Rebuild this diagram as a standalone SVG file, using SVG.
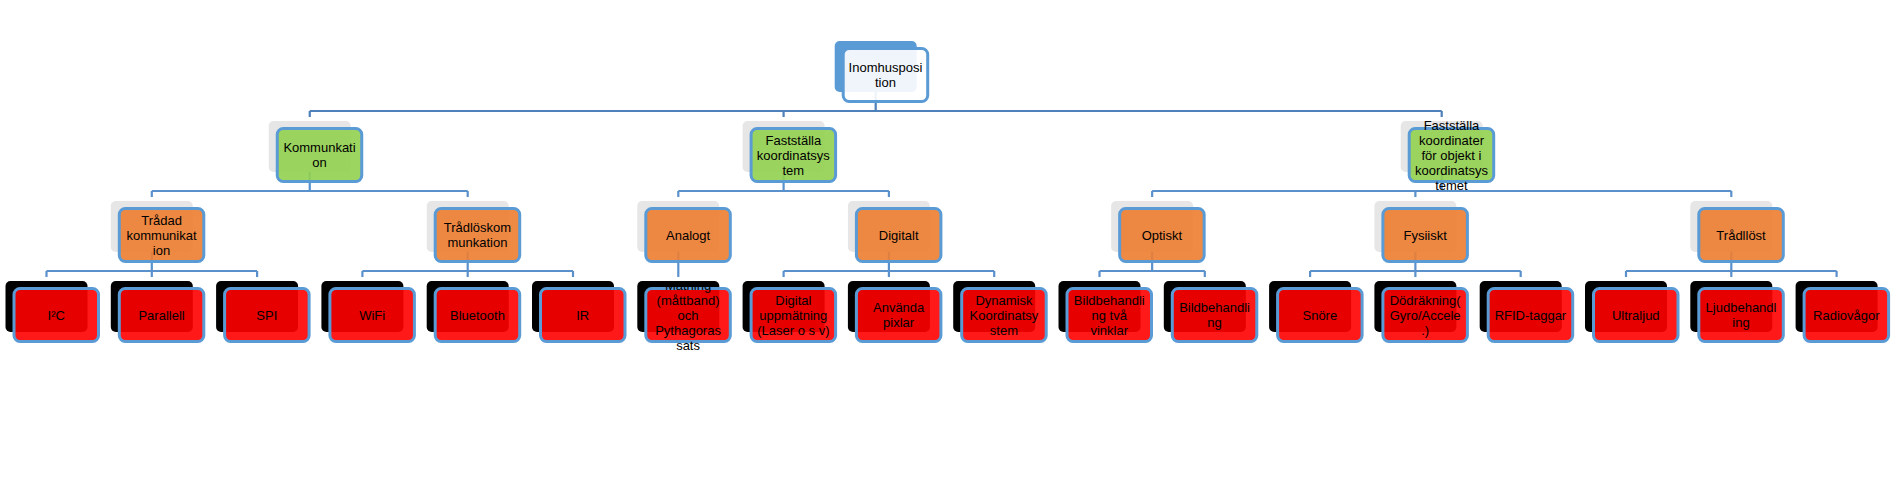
<svg xmlns="http://www.w3.org/2000/svg" width="1894" height="482" viewBox="0 0 1894 482">
<style>
.bg{fill:#ffffff}
.con path{fill:none;stroke:#5A91CD;stroke-width:2.2}
.con path.top{stroke:#4E80BA}
.shb{fill:#5B9BD5}
.shg{fill:#E6E6E6}
.shk{fill:#000000}
.fr{stroke:#5B9BD5;stroke-width:3;fill-opacity:0.9}
.w{fill:#ffffff}
.g{fill:#92D050}
.o{fill:#ED7D31}
.r{fill:#FF0000}
text{font-family:"Liberation Sans",Arial,sans-serif;font-size:13px;fill:#000;text-anchor:middle}
</style>
<rect class="bg" x="0" y="0" width="1894" height="482"/>
<g id="connectors" class="con">
<path class="top" d="M875.7 92 V111 M309.75 111 H1441.7 M309.75 111 V117 M783.6 111 V117 M1441.7 111 V117"/>
<path d="M309.75 172 V191 M151.8 191 H467.7 M151.8 191 V197 M467.7 191 V197"/>
<path d="M783.6 172 V191 M678.3 191 H888.9 M678.3 191 V197 M888.9 191 V197"/>
<path d="M1441.7 172 V191 M1152.15 191 H1731.3 M1152.15 191 V197 M1415.4 191 V197 M1731.3 191 V197"/>
<path d="M151.8 252 V271 M46.5 271 H257.1 M46.5 271 V277 M151.8 271 V277 M257.1 271 V277"/>
<path d="M467.7 252 V271 M362.4 271 H573 M362.4 271 V277 M467.7 271 V277 M573 271 V277"/>
<path d="M678.3 252 V277"/>
<path d="M888.9 252 V271 M783.6 271 H994.2 M783.6 271 V277 M888.9 271 V277 M994.2 271 V277"/>
<path d="M1152.15 252 V271 M1099.5 271 H1204.8 M1099.5 271 V277 M1204.8 271 V277"/>
<path d="M1415.4 252 V271 M1310.1 271 H1520.7 M1310.1 271 V277 M1415.4 271 V277 M1520.7 271 V277"/>
<path d="M1731.3 252 V271 M1626 271 H1836.6 M1626 271 V277 M1731.3 271 V277 M1836.6 271 V277"/>
</g>

<g id="n-root"><rect class="shb" x="834.7" y="41" width="82" height="51" rx="5"/><rect class="fr w" x="843.2" y="48.5" width="84.5" height="53" rx="6"/><text x="885.45" y="71.5">Inomhusposi<tspan x="885.45" dy="15">tion</tspan></text></g>

<g id="n-kommunikation"><rect class="shg" x="268.75" y="121" width="82" height="51" rx="5"/><rect class="fr g" x="277.25" y="128.5" width="84.5" height="53" rx="6"/><text x="319.5" y="152">Kommunkati<tspan x="319.5" dy="15">on</tspan></text></g>
<g id="n-koordinatsystem"><rect class="shg" x="742.6" y="121" width="82" height="51" rx="5"/><rect class="fr g" x="751.1" y="128.5" width="84.5" height="53" rx="6"/><text x="793.35" y="144.5">Fastställa<tspan x="793.35" dy="15">koordinatsys</tspan><tspan x="793.35" dy="15">tem</tspan></text></g>
<g id="n-objekt"><rect class="shg" x="1400.7" y="121" width="82" height="51" rx="5"/><rect class="fr g" x="1409.2" y="128.5" width="84.5" height="53" rx="6"/><text x="1451.45" y="129.5">Fastställa<tspan x="1451.45" dy="15">koordinater</tspan><tspan x="1451.45" dy="15">för objekt i</tspan><tspan x="1451.45" dy="15">koordinatsys</tspan><tspan x="1451.45" dy="15">temet</tspan></text></g>

<g id="n-tradad"><rect class="shg" x="110.8" y="201" width="82" height="51" rx="5"/><rect class="fr o" x="119.3" y="208.5" width="84.5" height="53" rx="6"/><text x="161.55" y="224.5">Trådad<tspan x="161.55" dy="15">kommunikat</tspan><tspan x="161.55" dy="15">ion</tspan></text></g>
<g id="n-tradlos"><rect class="shg" x="426.7" y="201" width="82" height="51" rx="5"/><rect class="fr o" x="435.2" y="208.5" width="84.5" height="53" rx="6"/><text x="477.45" y="232">Trådlöskom<tspan x="477.45" dy="15">munkation</tspan></text></g>
<g id="n-analogt"><rect class="shg" x="637.3" y="201" width="82" height="51" rx="5"/><rect class="fr o" x="645.8" y="208.5" width="84.5" height="53" rx="6"/><text x="688.05" y="239.5">Analogt</text></g>
<g id="n-digitalt"><rect class="shg" x="847.9" y="201" width="82" height="51" rx="5"/><rect class="fr o" x="856.4" y="208.5" width="84.5" height="53" rx="6"/><text x="898.65" y="239.5">Digitalt</text></g>
<g id="n-optiskt"><rect class="shg" x="1111.15" y="201" width="82" height="51" rx="5"/><rect class="fr o" x="1119.65" y="208.5" width="84.5" height="53" rx="6"/><text x="1161.9" y="239.5">Optiskt</text></g>
<g id="n-fysiskt"><rect class="shg" x="1374.4" y="201" width="82" height="51" rx="5"/><rect class="fr o" x="1382.9" y="208.5" width="84.5" height="53" rx="6"/><text x="1425.15" y="239.5">Fysiiskt</text></g>
<g id="n-tradlost"><rect class="shg" x="1690.3" y="201" width="82" height="51" rx="5"/><rect class="fr o" x="1698.8" y="208.5" width="84.5" height="53" rx="6"/><text x="1741.05" y="239.5">Trådllöst</text></g>

<g id="n-i2c"><rect class="shk" x="5.5" y="281" width="82" height="51" rx="5"/><rect class="fr r" x="14" y="288.5" width="84.5" height="53" rx="6"/><text x="56.25" y="319.5">I²C</text></g>
<g id="n-parallell"><rect class="shk" x="110.8" y="281" width="82" height="51" rx="5"/><rect class="fr r" x="119.3" y="288.5" width="84.5" height="53" rx="6"/><text x="161.55" y="319.5">Parallell</text></g>
<g id="n-spi"><rect class="shk" x="216.1" y="281" width="82" height="51" rx="5"/><rect class="fr r" x="224.6" y="288.5" width="84.5" height="53" rx="6"/><text x="266.85" y="319.5">SPI</text></g>
<g id="n-wifi"><rect class="shk" x="321.4" y="281" width="82" height="51" rx="5"/><rect class="fr r" x="329.9" y="288.5" width="84.5" height="53" rx="6"/><text x="372.15" y="319.5">WiFi</text></g>
<g id="n-bluetooth"><rect class="shk" x="426.7" y="281" width="82" height="51" rx="5"/><rect class="fr r" x="435.2" y="288.5" width="84.5" height="53" rx="6"/><text x="477.45" y="319.5">Bluetooth</text></g>
<g id="n-ir"><rect class="shk" x="532" y="281" width="82" height="51" rx="5"/><rect class="fr r" x="540.5" y="288.5" width="84.5" height="53" rx="6"/><text x="582.75" y="319.5">IR</text></g>
<g id="n-matning"><rect class="shk" x="637.3" y="281" width="82" height="51" rx="5"/><rect class="fr r" x="645.8" y="288.5" width="84.5" height="53" rx="6"/><text x="688.05" y="289.5">Mätning<tspan x="688.05" dy="15">(måttband)</tspan><tspan x="688.05" dy="15">och</tspan><tspan x="688.05" dy="15">Pythagoras</tspan><tspan x="688.05" dy="15">sats</tspan></text></g>
<g id="n-digital"><rect class="shk" x="742.6" y="281" width="82" height="51" rx="5"/><rect class="fr r" x="751.1" y="288.5" width="84.5" height="53" rx="6"/><text x="793.35" y="304.5">Digital<tspan x="793.35" dy="15">uppmätning</tspan><tspan x="793.35" dy="15">(Laser o s v)</tspan></text></g>
<g id="n-pixlar"><rect class="shk" x="847.9" y="281" width="82" height="51" rx="5"/><rect class="fr r" x="856.4" y="288.5" width="84.5" height="53" rx="6"/><text x="898.65" y="312">Använda<tspan x="898.65" dy="15">pixlar</tspan></text></g>
<g id="n-dynamisk"><rect class="shk" x="953.2" y="281" width="82" height="51" rx="5"/><rect class="fr r" x="961.7" y="288.5" width="84.5" height="53" rx="6"/><text x="1003.95" y="304.5">Dynamisk<tspan x="1003.95" dy="15">Koordinatsy</tspan><tspan x="1003.95" dy="15">stem</tspan></text></g>
<g id="n-bild2"><rect class="shk" x="1058.5" y="281" width="82" height="51" rx="5"/><rect class="fr r" x="1067" y="288.5" width="84.5" height="53" rx="6"/><text x="1109.25" y="304.5">Bildbehandli<tspan x="1109.25" dy="15">ng två</tspan><tspan x="1109.25" dy="15">vinklar</tspan></text></g>
<g id="n-bild"><rect class="shk" x="1163.8" y="281" width="82" height="51" rx="5"/><rect class="fr r" x="1172.3" y="288.5" width="84.5" height="53" rx="6"/><text x="1214.55" y="312">Bildbehandli<tspan x="1214.55" dy="15">ng</tspan></text></g>
<g id="n-snore"><rect class="shk" x="1269.1" y="281" width="82" height="51" rx="5"/><rect class="fr r" x="1277.6" y="288.5" width="84.5" height="53" rx="6"/><text x="1319.85" y="319.5">Snöre</text></g>
<g id="n-dodrakning"><rect class="shk" x="1374.4" y="281" width="82" height="51" rx="5"/><rect class="fr r" x="1382.9" y="288.5" width="84.5" height="53" rx="6"/><text x="1425.15" y="304.5">Dödräkning(<tspan x="1425.15" dy="15">Gyro/Accele</tspan><tspan x="1425.15" dy="15">.)</tspan></text></g>
<g id="n-rfid"><rect class="shk" x="1479.7" y="281" width="82" height="51" rx="5"/><rect class="fr r" x="1488.2" y="288.5" width="84.5" height="53" rx="6"/><text x="1530.45" y="319.5">RFID-taggar</text></g>
<g id="n-ultraljud"><rect class="shk" x="1585" y="281" width="82" height="51" rx="5"/><rect class="fr r" x="1593.5" y="288.5" width="84.5" height="53" rx="6"/><text x="1635.75" y="319.5">Ultraljud</text></g>
<g id="n-ljud"><rect class="shk" x="1690.3" y="281" width="82" height="51" rx="5"/><rect class="fr r" x="1698.8" y="288.5" width="84.5" height="53" rx="6"/><text x="1741.05" y="312">Ljudbehandl<tspan x="1741.05" dy="15">ing</tspan></text></g>
<g id="n-radio"><rect class="shk" x="1795.6" y="281" width="82" height="51" rx="5"/><rect class="fr r" x="1804.1" y="288.5" width="84.5" height="53" rx="6"/><text x="1846.35" y="319.5">Radiovågor</text></g>
</svg>
